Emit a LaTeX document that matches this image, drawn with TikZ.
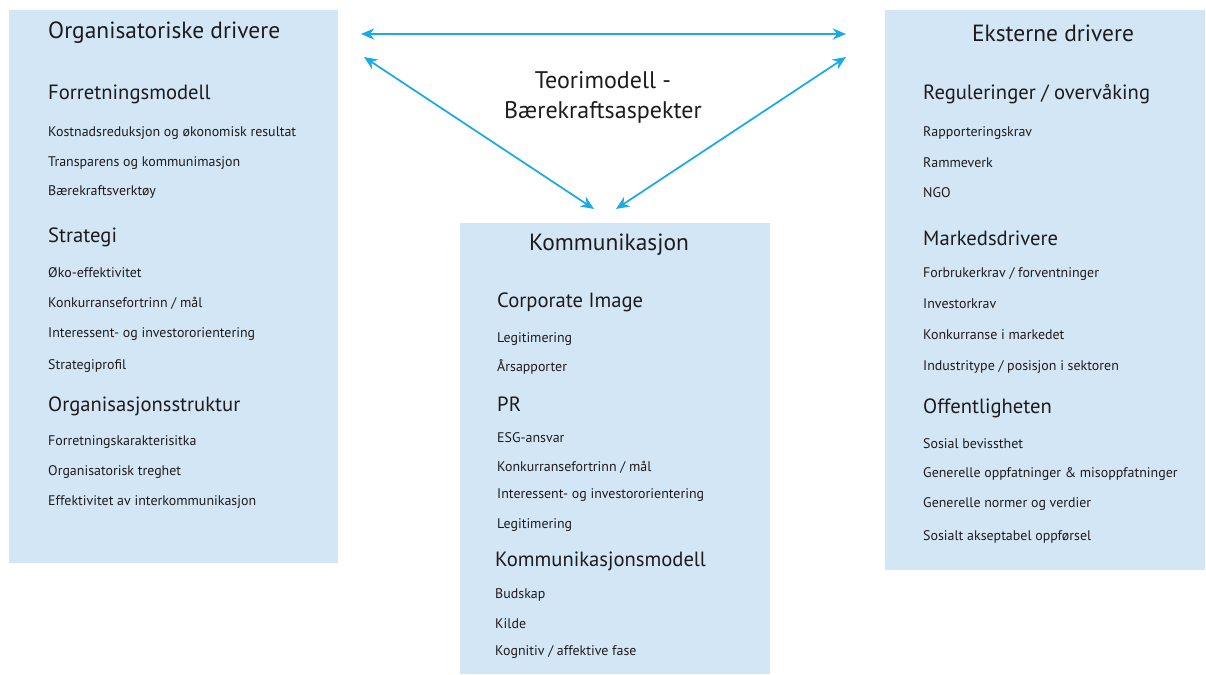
\documentclass[tikz,border=0pt]{standalone}
\usepackage{fontspec}
\setmainfont{PT Sans}
\usetikzlibrary{arrows.meta}
\definecolor{boks}{HTML}{D3E6F5}
\definecolor{pil}{HTML}{1AABE6}
\definecolor{tekst}{HTML}{1E1B1C}

\begin{document}
\begin{tikzpicture}[
  x=0.03cm, y=-0.03cm,
  boks/.style={fill=boks,draw=none},
  tittel/.style={text=tekst,inner sep=0pt,font=\fontsize{20}{22}\selectfont},
  overskrift/.style={anchor=west,text=tekst,inner sep=0pt,font=\fontsize{17.6}{20}\selectfont},
  punkt/.style={anchor=west,text=tekst,inner sep=0pt,font=\fontsize{11.9}{14}\selectfont},
  pil/.style={{Stealth[length=4mm,width=3.4mm]}-{Stealth[length=4mm,width=3.4mm]},draw=pil,line width=1.5pt}
]
  \useasboundingbox (0,0) rectangle (1206,675);
  % bokser
  \fill[boks] (9,10) rectangle (338,563);
  \fill[boks] (460,223) rectangle (770,674);
  \fill[boks] (885,10) rectangle (1205,570);

  % venstre
  \node[tittel,anchor=west] (org) at (48,33) {Organisatoriske drivere};
  \node[overskrift] (forr) at (48,94) {Forretningsmodell};
  \node[punkt] (f1) at (48,133) {Kostnadsreduksjon og økonomisk resultat};
  \node[punkt] (f2) at (48,163) {Transparens og kommunimasjon};
  \node[punkt] (f3) at (48,192) {Bærekraftsverktøy};
  \node[overskrift] (strat) at (48,237) {Strategi};
  \node[punkt] (s1) at (48,273) {Øko-effektivitet};
  \node[punkt] (s2) at (48,303) {Konkurransefortrinn / mål};
  \node[punkt] (s3) at (48,334) {Interessent- og investororientering};
  \node[punkt] (s4) at (48,366) {Strategiprofil};
  \node[overskrift] (struk) at (48,406) {Organisasjonsstruktur};
  \node[punkt] (o1) at (48,442) {Forretningskarakterisitka};
  \node[punkt] (o2) at (48,472) {Organisatorisk treghet};
  \node[punkt] (o3) at (48,502) {Effektivitet av interkommunikasjon};

  % midten
  \node[tittel,align=center,font=\fontsize{20.5}{25.5}\selectfont] (teori) at (603,97) {Teorimodell -\\Bærekraftsaspekter};
  \node[tittel] (komm) at (609,245) {Kommunikasjon};
  \node[overskrift] (corp) at (497,302) {Corporate Image};
  \node[punkt] (c1) at (497,339) {Legitimering};
  \node[punkt] (c2) at (497,367) {Årsapporter};
  \node[overskrift] (pr) at (497,404) {PR};
  \node[punkt] (p1) at (497,438) {ESG-ansvar};
  \node[punkt] (p2) at (497,467) {Konkurransefortrinn / mål};
  \node[punkt] (p3) at (497,495) {Interessent- og investororientering};
  \node[punkt] (p4) at (497,525) {Legitimering};
  \node[overskrift] (kmod) at (495,561) {Kommunikasjonsmodell};
  \node[punkt] (k1) at (495,595) {Budskap};
  \node[punkt] (k2) at (495,624) {Kilde};
  \node[punkt] (k3) at (495,652) {Kognitiv / affektive fase};

  % hoyre
  \node[tittel] (ekst) at (1053,33) {Eksterne drivere};
  \node[overskrift] (reg) at (923,94) {Reguleringer / overvåking};
  \node[punkt] (r1) at (923,133) {Rapporteringskrav};
  \node[punkt] (r2) at (923,163) {Rammeverk};
  \node[punkt] (r3) at (923,193) {NGO};
  \node[overskrift] (mark) at (923,238) {Markedsdrivere};
  \node[punkt] (m1) at (923,274) {Forbrukerkrav / forventninger};
  \node[punkt] (m2) at (923,304) {Investorkrav};
  \node[punkt] (m3) at (923,335) {Konkurranse i markedet};
  \node[punkt] (m4) at (923,367) {Industritype / posisjon i sektoren};
  \node[overskrift] (off) at (923,408) {Offentligheten};
  \node[punkt] (of1) at (923,444) {Sosial bevissthet};
  \node[punkt] (of2) at (923,474) {Generelle oppfatninger \& misoppfatninger};
  \node[punkt] (of3) at (923,504) {Generelle normer og verdier};
  \node[punkt] (of4) at (923,537) {Sosialt akseptabel oppførsel};

  % piler
  \coordinate (vo) at (361,34);
  \coordinate (ho) at (846,34);
  \coordinate (vn) at (364,57);
  \coordinate (hn) at (846,57);
  \coordinate (mv) at (594,209);
  \coordinate (mh) at (616,209);
  \draw[pil] (vo) -- (ho);
  \draw[pil] (vn) -- (mv);
  \draw[pil] (hn) -- (mh);
\end{tikzpicture}
\end{document}
